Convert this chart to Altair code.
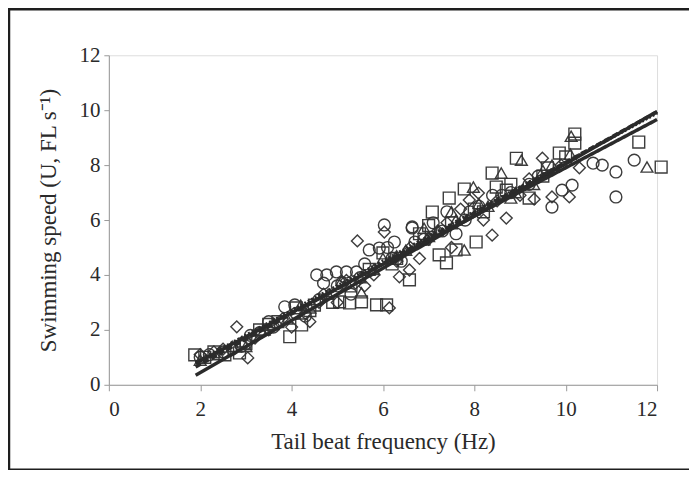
import altair as alt
import pandas as pd

# ---- data ----
circle_x = [2.0, 2.2, 2.5, 2.7, 2.9, 3.0, 3.1, 3.3, 3.5, 3.6, 3.85, 4.07, 4.1, 4.3, 4.55, 4.6, 4.7, 4.77, 4.98,
            5.0, 5.1, 5.2, 5.3, 5.42, 5.5, 5.6, 5.7, 5.92, 6.03, 6.1, 6.2, 6.25, 6.4, 6.64, 6.64, 6.7, 6.9,
            7.1, 7.3, 7.4, 7.6, 7.8, 7.9, 8.1, 8.4, 8.6, 8.8, 9.2, 9.4, 9.7, 9.92, 10.14, 10.6, 10.8, 11.1,
            11.1, 11.5]
circle_y = [1.0, 1.1, 1.2, 1.3, 1.4, 1.5, 1.8, 1.9, 2.3, 2.1, 2.84, 2.91, 2.6, 2.5, 4.0, 3.1, 3.7, 4.0, 4.11,
            3.6, 3.7, 4.11, 3.3, 4.11, 3.9, 4.4, 4.91, 4.98, 5.82, 5.0, 4.6, 5.2, 4.5, 5.75, 5.71, 5.2, 5.3,
            5.9, 5.6, 6.3, 5.5, 6.0, 6.3, 6.5, 6.9, 6.9, 7.0, 7.3, 7.6, 6.47, 7.09, 7.27, 8.07, 8.0, 7.75,
            6.84, 8.18]

square_x = [1.88, 2.1, 2.3, 2.54, 2.86, 3.0, 3.3, 3.5, 3.7, 3.96, 4.1, 4.22, 4.4, 4.5, 4.9, 5.05, 5.27, 5.3,
            5.53, 5.7, 5.86, 6.0, 6.08, 6.2, 6.3, 6.58, 6.8, 6.9, 7.0, 7.08, 7.23, 7.39, 7.45, 7.5, 7.6, 7.78,
            8.0, 8.04, 8.2, 8.39, 8.48, 8.7, 8.8, 8.92, 9.2, 9.5, 9.6, 9.86, 10.0, 10.2, 10.2, 11.6, 12.09]
square_y = [1.09, 1.0, 1.2, 1.09, 1.16, 1.5, 2.0, 2.2, 2.3, 1.75, 2.8, 2.18, 2.7, 2.9, 3.0, 3.02, 2.98, 3.6,
            3.02, 4.2, 2.91, 4.8, 2.91, 4.4, 4.6, 3.82, 5.5, 5.3, 5.8, 6.29, 4.73, 4.44, 6.8, 5.9, 4.91, 7.13,
            6.4, 5.2, 6.3, 7.71, 7.2, 7.09, 7.3, 8.25, 6.8, 7.6, 7.9, 8.44, 8.3, 9.13, 8.8, 8.84, 7.93]

diamond_x = [2.0, 2.3, 2.5, 2.8, 3.04, 3.2, 3.3, 3.5, 3.8, 4.0, 4.3, 4.4, 4.6, 4.7, 5.0, 5.2, 5.4, 5.44, 5.6,
             5.8, 6.03, 6.14, 6.3, 6.36, 6.58, 6.6, 6.8, 7.0, 7.2, 7.4, 7.5, 7.7, 7.89, 8.09, 8.2, 8.39, 8.5,
             8.7, 9.0, 9.2, 9.31, 9.49, 9.7, 9.9, 10.08, 10.3]
diamond_y = [1.1, 1.2, 1.3, 2.11, 0.98, 1.7, 1.9, 2.0, 2.4, 2.1, 2.6, 2.3, 3.0, 3.3, 3.0, 3.8, 3.7, 5.24, 3.6,
             4.0, 5.56, 2.8, 4.5, 3.93, 4.18, 5.0, 4.6, 5.3, 5.6, 5.9, 5.0, 6.4, 6.73, 6.98, 6.0, 5.45, 6.7,
             6.07, 6.9, 7.5, 6.76, 8.25, 6.84, 8.0, 6.84, 7.9]

triangle_x = [2.0, 2.4, 2.7, 3.0, 3.4, 3.6, 3.9, 4.2, 4.4, 4.8, 5.1, 5.5, 5.53, 5.8, 6.0, 6.3, 6.5, 6.9, 7.0,
              7.2, 7.5, 7.6, 7.78, 7.98, 8.1, 8.3, 8.59, 8.8, 8.9, 9.03, 9.3, 9.5, 9.7, 10.1, 10.12, 11.78]
triangle_y = [0.9, 1.1, 1.4, 1.4, 2.0, 2.2, 2.4, 2.9, 2.8, 3.3, 3.8, 3.9, 3.35, 4.2, 4.6, 4.7, 4.9, 5.7, 5.4,
              5.6, 6.3, 6.0, 4.91, 7.2, 6.6, 6.5, 7.71, 6.8, 7.0, 8.18, 7.3, 7.8, 8.0, 8.4, 9.05, 7.93]

# regression lines: name, start (x, y), end (x, y)
line_names = ["fit A", "fit B", "fit C", "fit D"]
line_x0 = [1.9, 1.9, 1.9, 1.9]
line_y0 = [0.35, 0.78, 0.65, 0.81]
line_x1 = [12.0, 12.0, 12.0, 12.0]
line_y1 = [9.95, 9.66, 9.94, 9.9]
line_dash = ["solid", "solid", "dashed", "dotted"]

x_ticks = [0, 2, 4, 6, 8, 10, 12]
y_ticks = [0, 2, 4, 6, 8, 10, 12]

# ---- tables ----
rows = []
for name, xs, ys in [("circle", circle_x, circle_y), ("square", square_x, square_y),
                     ("diamond", diamond_x, diamond_y), ("triangle", triangle_x, triangle_y)]:
    for x, y in zip(xs, ys):
        rows.append({"f": x, "u": y, "group": name})
pts = pd.DataFrame(rows)

lrows = []
for n, a, b, c, d, s in zip(line_names, line_x0, line_y0, line_x1, line_y1, line_dash):
    lrows.append({"f": a, "u": b, "line": n, "style": s})
    lrows.append({"f": c, "u": d, "line": n, "style": s})
lines = pd.DataFrame(lrows)

FONT = "Liberation Serif"
xscale = alt.Scale(domain=[0, 12], nice=False)
yscale = alt.Scale(domain=[0, 12], nice=False)

xaxis = alt.Axis(values=x_ticks, title="Tail beat frequency (Hz)", grid=False,
                 labelFont=FONT, labelFontSize=21, labelColor="#2a2a2a", labelPadding=8,
                 titleFont=FONT, titleFontSize=23, titleFontWeight="normal", titleColor="#2a2a2a",
                 titlePadding=11, domainColor="#9a9a9a", tickColor="#9a9a9a", tickSize=6)
yaxis = alt.Axis(values=y_ticks, title="Swimming speed (U, FL s\u207b\u00b9)", grid=False,
                 labelFont=FONT, labelFontSize=21, labelColor="#2a2a2a", labelPadding=4,
                 titleFont=FONT, titleFontSize=23, titleFontWeight="normal", titleColor="#2a2a2a",
                 titlePadding=18, domainColor="#9a9a9a", tickColor="#9a9a9a", tickSize=5)

frame = alt.Chart(pd.DataFrame({"k": [0]})).mark_rect(
    fill="transparent", stroke="#1e1e1e", strokeWidth=2.5, clip=False
).encode(x=alt.value(-100), x2=alt.value(640), y=alt.value(-46), y2=alt.value(415))

scatter = alt.Chart(pts).mark_point(filled=False, size=140, strokeWidth=1.4, opacity=0.95).encode(
    x=alt.X("f:Q", scale=xscale, axis=xaxis),
    y=alt.Y("u:Q", scale=yscale, axis=yaxis),
    shape=alt.Shape("group:N", scale=alt.Scale(domain=["circle", "square", "diamond", "triangle"],
                                               range=["circle", "square", "diamond", "triangle-up"]),
                    legend=None),
    color=alt.value("#333333"),
)

fit = alt.Chart(lines).mark_line(strokeWidth=3.5, color="#2b2b2b").encode(
    x=alt.X("f:Q", scale=xscale),
    y=alt.Y("u:Q", scale=yscale),
    detail="line:N",
    strokeDash=alt.StrokeDash("style:N", scale=alt.Scale(domain=["solid", "dashed", "dotted"],
                                                          range=[[1, 0], [6, 3], [2, 2]]),
                              legend=None),
)

chart = alt.layer(frame, scatter, fit).properties(
    width=549, height=330,
    autosize=alt.AutoSizeParams(type="none"),
    padding={"left": 101, "top": 47, "right": 32, "bottom": 85},
).configure_view(stroke=None).configure(background="white")

chart.save("out.html", embed_options={"renderer": "svg", "actions": False})
